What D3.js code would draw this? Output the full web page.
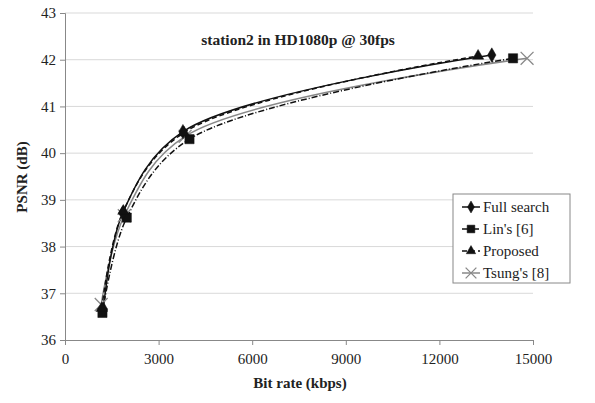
<!DOCTYPE html>
<html>
<head>
<meta charset="utf-8">
<script src="https://cdn.jsdelivr.net/npm/d3@7"></script>
<style>
  body { margin: 0; background: #fff; }
  svg text { font-family: "Liberation Serif", "Times New Roman", Times, "DejaVu Serif", serif !important; fill: #222; }
</style>
</head>
<body>
<div id="chart"></div>
<script>
// values
const seriesNames = ["Full search", "Lin's [6]", "Proposed", "Tsung's [8]"];
const fullRate = [1230, 1850, 3780, 13680];
const fullPsnr = [36.66, 38.72, 40.46, 42.10];
const linRate = [1200, 1980, 3990, 14360];
const linPsnr = [36.58, 38.62, 40.30, 42.03];
const propRate = [1180, 1870, 3810, 13240];
const propPsnr = [36.68, 38.76, 40.44, 42.08];
const tsungRate = [1160, 1900, 3850, 14810];
const tsungPsnr = [36.76, 38.66, 40.36, 42.03];
const xTicks = [0, 3000, 6000, 9000, 12000, 15000];
const yTicks = [36, 37, 38, 39, 40, 41, 42, 43];

const width = 595, height = 403;
const margin = { left: 65, right: 62, top: 13, bottom: 63 };

const svg = d3.select("#chart").append("svg")
    .attr("width", width)
    .attr("height", height);

const x = d3.scaleLinear().domain([0, 15000]).range([margin.left, width - margin.right]);
const y = d3.scaleLinear().domain([36, 43]).range([height - margin.bottom, margin.top]);

// gridlines
svg.append("g")
    .selectAll("line")
    .data(yTicks.slice(1))
    .enter().append("line")
    .attr("x1", x(0)).attr("x2", x(15000))
    .attr("y1", d => y(d)).attr("y2", d => y(d))
    .style("stroke", "#d9d9d9")
    .style("stroke-width", "1px");

const xAxis = svg.append("g")
    .attr("transform", `translate(0,${y(36)})`)
    .call(d3.axisBottom(x).tickValues(xTicks).tickSize(5).tickPadding(8).tickFormat(d3.format("d")));
const yAxis = svg.append("g")
    .attr("transform", `translate(${x(0)},0)`)
    .call(d3.axisLeft(y).tickValues(yTicks).tickSize(5).tickPadding(4).tickFormat(d3.format("d")));

[xAxis, yAxis].forEach(a => {
    a.attr("font-family", null);
    a.select(".domain").style("stroke", "#888");
    a.selectAll(".tick line").style("stroke", "#888");
    a.selectAll(".tick text")
        .style("font-size", "15px")
        .style("fill", "#222");
});

// titles
svg.append("text")
    .attr("x", 298).attr("y", 45)
    .attr("text-anchor", "middle")
    .style("font-size", "15.5px").style("font-weight", "bold")
    .text("station2 in HD1080p @ 30fps");

svg.append("text")
    .attr("x", 300).attr("y", 388)
    .attr("text-anchor", "middle")
    .style("font-size", "15px").style("font-weight", "bold")
    .text("Bit rate (kbps)");

svg.append("text")
    .attr("transform", "translate(27,177) rotate(-90)")
    .attr("text-anchor", "middle")
    .style("font-size", "15px").style("font-weight", "bold")
    .text("PSNR (dB)");

const series = [
    { name: seriesNames[0], rate: fullRate, psnr: fullPsnr, color: "#111", dash: null, sym: d3.symbolDiamond, size: 60 },
    { name: seriesNames[1], rate: linRate, psnr: linPsnr, color: "#111", dash: "6,2,1,2", sym: d3.symbolSquare, size: 85 },
    { name: seriesNames[2], rate: propRate, psnr: propPsnr, color: "#111", dash: "5,3", sym: d3.symbolTriangle, size: 55 },
    { name: seriesNames[3], rate: tsungRate, psnr: tsungPsnr, color: "#888", dash: null, sym: d3.symbolX, size: 110 }
];

const line = d3.line()
    .x(d => x(d[0]))
    .y(d => y(d[1]))
    .curve(d3.curveCatmullRom.alpha(0.5));

const drawOrder = [3, 1, 0, 2];
drawOrder.forEach(i => {
    const s = series[i];
    const pts = s.rate.map((r, k) => [r, s.psnr[k]]);
    svg.append("path")
        .datum(pts)
        .attr("d", line)
        .style("fill", "none")
        .style("stroke", s.color)
        .style("stroke-width", "1.5px")
        .style("stroke-dasharray", s.dash);
});

function marker(g, s, scale) {
    const isX = s.sym === d3.symbolX;
    return g.append("path")
        .attr("d", d3.symbol().type(s.sym).size(s.size * scale))
        .style("fill", isX ? "none" : s.color)
        .style("stroke", s.color)
        .style("stroke-width", isX ? "1.3px" : "0.5px");
}

drawOrder.forEach(i => {
    const s = series[i];
    s.rate.forEach((r, k) => {
        const g = svg.append("g").attr("transform", `translate(${x(r)},${y(s.psnr[k])})`);
        marker(g, s, 1);
    });
});

// legend
const legend = svg.append("g").attr("transform", "translate(453,194)");
legend.append("rect")
    .attr("width", 117).attr("height", 89)
    .style("fill", "#fff")
    .style("stroke", "#888")
    .style("stroke-width", "1px");

series.forEach((s, i) => {
    const row = legend.append("g").attr("transform", `translate(0,${13 + i * 22})`);
    row.append("line")
        .attr("x1", 9).attr("x2", 27)
        .style("stroke", s.color)
        .style("stroke-width", "1.5px")
        .style("stroke-dasharray", s.dash);
    const m = row.append("g").attr("transform", "translate(18,0)");
    marker(m, s, 0.7);
    row.append("text")
        .attr("x", 30).attr("y", 5)
        .style("font-size", "15px")
        .text(s.name);
});
</script>
</body>
</html>
